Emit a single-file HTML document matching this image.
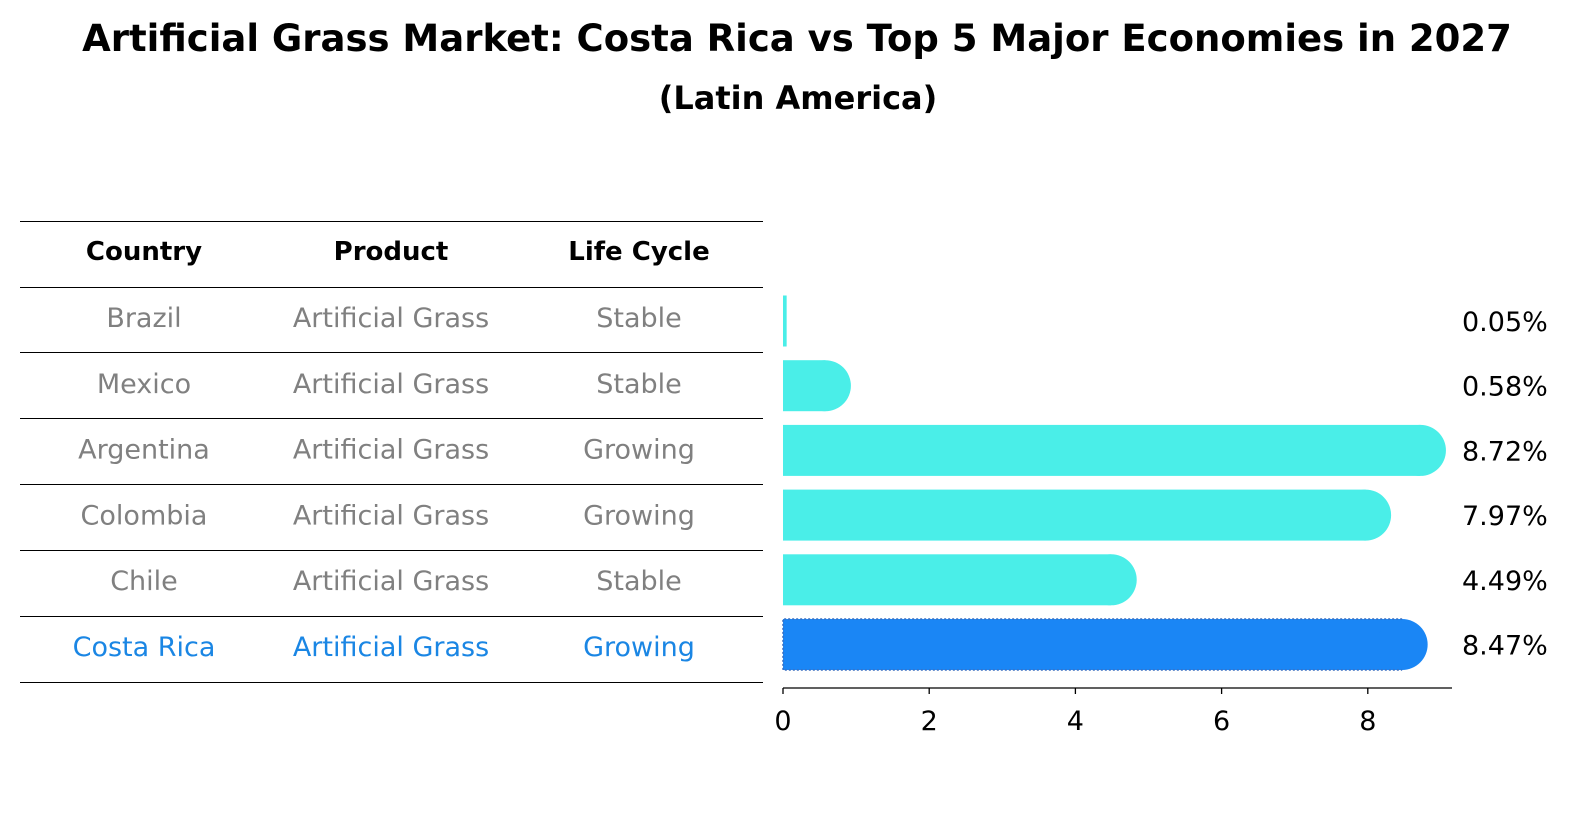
<!DOCTYPE html>
<html><head><meta charset="utf-8"><style>
body{margin:0;background:#fff;font-family:"Liberation Sans","DejaVu Sans",sans-serif;}
</style></head><body>
<svg width="1586" height="823" viewBox="0 0 1586 823" xmlns="http://www.w3.org/2000/svg" font-family="DejaVu Sans, Liberation Sans, sans-serif">
<rect width="1586" height="823" fill="#fff"/>
<text x="797" y="51" text-anchor="middle" font-size="37" font-weight="bold">Artificial Grass Market: Costa Rica vs Top 5 Major Economies in 2027</text>
<text x="798" y="109" text-anchor="middle" font-size="32" font-weight="bold">(Latin America)</text>
<g id="table"></g>
<g id="bars"></g>
</svg>
<script>
const countries=["Brazil","Mexico","Argentina","Colombia","Chile","Costa Rica"];
const products=["Artificial Grass","Artificial Grass","Artificial Grass","Artificial Grass","Artificial Grass","Artificial Grass"];
const lifeCycles=["Stable","Stable","Growing","Growing","Stable","Growing"];
const values=[0.05,0.58,8.72,7.97,4.49,8.47];
const valueLabels=["0.05%","0.58%","8.72%","7.97%","4.49%","8.47%"];
const ticks=[0,2,4,6,8];
const NS="http://www.w3.org/2000/svg";
function mk(tag,attrs,parent,text){const e=document.createElementNS(NS,tag);for(const k in attrs)e.setAttribute(k,attrs[k]);if(text!==undefined)e.textContent=text;parent.appendChild(e);return e;}
const X=v=>783+v*73.1;
const rowY=i=>321+i*64.7;
const tbl=document.getElementById('table');
const lineYs=[221,287,352,418,484,550,616,682];
lineYs.forEach(y=>{const l=mk('line',{x1:20,x2:763,y1:y+0.5,y2:y+0.5,stroke:'#000','stroke-width':1},tbl);

});
const colX=[144,391,639];
["Country","Product","Life Cycle"].forEach((h,j)=>{const t=mk('text',{x:colX[j],y:260,'text-anchor':'middle','font-size':26,'font-weight':'bold'},tbl,h);

});
countries.forEach((c,i)=>{const col=i===countries.length-1?'#1a86e4':'#808080';
[c,products[i],lifeCycles[i]].forEach((s,j)=>{const t=mk('text',{x:colX[j],y:(327+i*65.8),'text-anchor':'middle','font-size':27,fill:col},tbl,s);

});});
const bars=document.getElementById('bars');
const h=51;
values.forEach((v,i)=>{const hl=i===values.length-1;const col=hl?'#1a86f5':'#4aeee8';const cy=rowY(i);
const g=mk('g',{},bars);


const w=Math.max(X(v)-X(0),3);
mk('rect',{x:X(0),y:cy-h/2,width:w,height:h,fill:col},g);
if(v>0.2)mk('circle',{cx:X(v),cy:cy,r:h/2,fill:col},g);
if(hl)mk('path',{d:`M${X(v)} ${cy-h/2} H${X(0)} V${cy+h/2} H${X(v)}`,fill:'none',stroke:'#3a6fc0','stroke-width':1.5,'stroke-dasharray':'2,2'},g);
const t=mk('text',{x:1462,y:cy+10,'font-size':27},bars,valueLabels[i]);

});
const ax=mk('line',{x1:783,x2:1452,y1:688,y2:688,stroke:'#000','stroke-width':1.3},bars);


ticks.forEach(tv=>{const l=mk('line',{x1:X(tv),x2:X(tv),y1:688,y2:694,stroke:'#000','stroke-width':1.3},bars);


const t=mk('text',{x:X(tv),y:730,'text-anchor':'middle','font-size':27},bars,String(tv));

});
</script>
</body></html>
